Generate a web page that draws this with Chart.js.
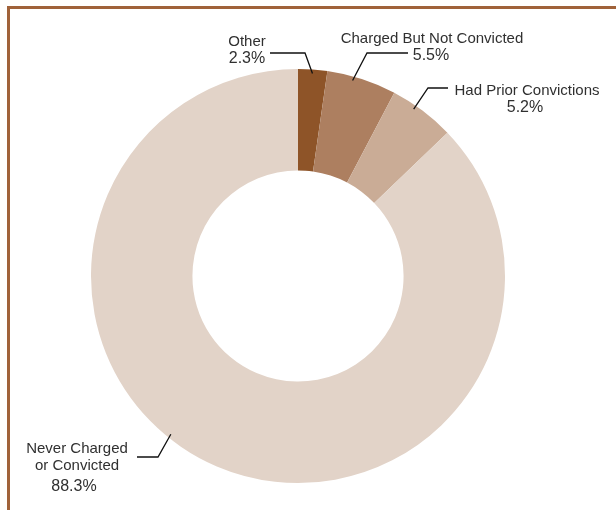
<!DOCTYPE html>
<html>
<head>
<meta charset="utf-8">
<style>
  html, body { margin: 0; padding: 0; background: #ffffff; }
  #wrap { width: 616px; height: 510px; position: relative; }
</style>
<script src="https://cdn.jsdelivr.net/npm/chart.js@4/dist/chart.umd.min.js"></script>
</head>
<body>
<div id="wrap"><canvas id="c" width="616" height="510"></canvas></div>
<script>
// Outcome shares, clockwise from 12 o'clock
const categories = ['Other', 'Charged But Not Convicted', 'Had Prior Convictions', 'Never Charged or Convicted'];
const shares = [2.3, 5.5, 5.2, 88.3];
const valueLabels = ['2.3%', '5.5%', '5.2%', '88.3%'];
const labelLines = [['Other'], ['Charged But Not Convicted'], ['Had Prior Convictions'], ['Never Charged', 'or Convicted']];

const sliceColors = ['#8e5428', '#ad7f60', '#caac96', '#e2d3c8'];

// Callout layout for each slice: where the text sits, the elbow of the
// leader line, and how far along the slice the line touches down.
const callouts = [
  { textX: 247, textY: 41.5, valueX: 247, elbow: [[270, 53], [305, 53]], along: 0.5 },
  { textX: 432, textY: 38.5, valueX: 431, elbow: [[408, 53], [367, 53]], along: 0.38 },
  { textX: 527, textY: 90.5, valueX: 525, elbow: [[448, 88], [428, 88]], along: 0.38 },
  { textX: 77, textY: 448.5, valueX: 74, elbow: [[137, 457], [158, 457]], along: 0.55 }
];

const FONT = '15px "Liberation Sans", Arial, sans-serif';
const FONT_VALUE = '16px "Liberation Sans", Arial, sans-serif';

const framePlugin = {
  id: 'frame',
  beforeDraw(chart) {
    const ctx = chart.ctx;
    ctx.save();
    ctx.strokeStyle = '#a0623a';
    ctx.lineWidth = 3;
    ctx.beginPath();
    ctx.moveTo(8.5, chart.height);
    ctx.lineTo(8.5, 7.5);
    ctx.lineTo(chart.width, 7.5);
    ctx.stroke();
    ctx.restore();
  }
};

const calloutPlugin = {
  id: 'callouts',
  afterDatasetsDraw(chart) {
    const ctx = chart.ctx;
    const meta = chart.getDatasetMeta(0);
    ctx.save();
    meta.data.forEach((arc, i) => {
      const c = callouts[i];
      const a = arc.startAngle + (arc.endAngle - arc.startAngle) * c.along;
      const r = arc.outerRadius - 4;
      const tx = arc.x + Math.cos(a) * r;
      const ty = arc.y + Math.sin(a) * r;
      ctx.strokeStyle = '#111111';
      ctx.lineWidth = 1.3;
      ctx.beginPath();
      ctx.moveTo(c.elbow[0][0], c.elbow[0][1]);
      ctx.lineTo(c.elbow[1][0], c.elbow[1][1]);
      ctx.lineTo(tx, ty);
      ctx.stroke();

      ctx.fillStyle = '#303030';
      ctx.textAlign = 'center';
      ctx.textBaseline = 'middle';
      ctx.font = FONT;
      const lines = labelLines[i];
      lines.forEach((t, k) => ctx.fillText(t, c.textX, c.textY + k * 17));
      ctx.font = FONT_VALUE;
      const extra = lines.length > 1 ? 4 : 0;
      ctx.fillText(valueLabels[i], c.valueX, c.textY + lines.length * 17 + extra);
    });
    ctx.restore();
  }
};

new Chart(document.getElementById('c'), {
  type: 'doughnut',
  data: {
    labels: categories,
    datasets: [{
      data: shares,
      backgroundColor: sliceColors,
      borderWidth: 0
    }]
  },
  options: {
    responsive: false,
    animation: false,
    cutout: '51%',
    layout: { padding: { left: 91, right: 111, top: 69, bottom: 27 } },
    plugins: {
      legend: { display: false },
      tooltip: { enabled: false }
    }
  },
  plugins: [framePlugin, calloutPlugin]
});
</script>
</body>
</html>
